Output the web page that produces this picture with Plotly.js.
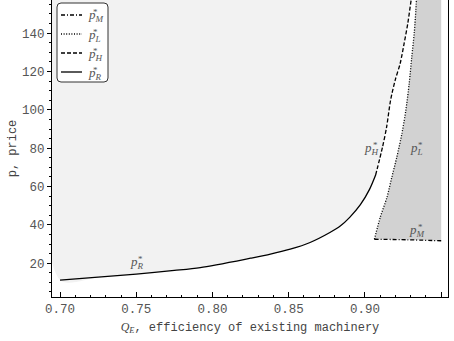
<!DOCTYPE html>
<html>
<head>
<meta charset="utf-8">
<script src="https://cdn.plot.ly/plotly-3.0.1.min.js"></script>
<style>html,body{margin:0;padding:0;background:#fff}#chart{width:454px;height:341px}</style>
</head>
<body>
<div id="chart"></div>
<script>
// ---- data ----
const pR_q = [0.700, 0.725, 0.750, 0.775, 0.792, 0.825, 0.838, 0.851, 0.864, 0.877, 0.884, 0.890, 0.897, 0.903, 0.907];
const pR_v = [11.2, 12.7, 14.3, 16.2, 17.7, 22.6, 24.7, 27.3, 30.8, 36.0, 39.5, 43.9, 50.5, 58.5, 66.0];

const pH_q = [0.907, 0.9115, 0.9142, 0.9168, 0.9198, 0.9231, 0.9257, 0.9281, 0.9303, 0.9325];
const pH_v = [66.0, 80.5, 91.0, 105.0, 115.4, 124.2, 134.7, 145.1, 157.3, 168.0];

const pL_q = [0.9062, 0.9100, 0.9144, 0.9176, 0.9209, 0.9242, 0.9268, 0.9290, 0.9307, 0.9323, 0.9334, 0.9345];
const pL_v = [32.5, 43.9, 54.3, 64.8, 75.3, 87.5, 99.7, 113.7, 127.6, 139.9, 152.1, 168.0];

const pM_q = [0.9062, 0.928, 0.950];
const pM_v = [32.5, 32.2, 31.7];

const legendNames = ['M', 'L', 'H', 'R'];
const xTitle = '<span style="font-family:Liberation Serif,serif;font-style:italic">Q<sub>E</sub></span>, efficiency of existing machinery';
const yTitle = 'p, price';

// ---- layout constants ----
const W = 454, H = 341, ML = 52, MR = 6, MT = 0, MB = 44;
const PW = W - ML - MR, PH = H - MT - MB;
const X0 = 0.69475, X1 = 0.95446, Y0 = 2.36, Y1 = 157.3, TOP = 175;
const F_MONO = 'Liberation Mono, Courier New, monospace';
const F_SERIF = 'Liberation Serif, DejaVu Serif, serif';
const px = x => (x - ML) / PW;
const py = y => 1 - (y - MT) / PH;

// shaded regions built from the curves
const lightX = [pR_q[0]].concat(pR_q, pH_q.slice(1), [pR_q[0]]);
const lightY = [TOP].concat(pR_v, pH_v.slice(1), [TOP]);
const dX = pL_q.concat([pM_q[pM_q.length - 1]]).concat(pM_q.slice().reverse());
const dY = pL_v.slice(0, -1).concat([TOP, TOP]).concat(pM_v.slice().reverse());

const lineBase = {color: '#000', width: 1.3, shape: 'spline', smoothing: 0.8};
const traces = [
  {x: lightX, y: lightY, mode: 'lines', fill: 'toself', fillcolor: '#f2f2f2', line: {width: 0, shape: 'spline', smoothing: 0.8}, hoverinfo: 'skip'},
  {x: dX, y: dY, mode: 'lines', fill: 'toself', fillcolor: '#d2d2d2', line: {width: 0}, hoverinfo: 'skip'},
  {x: pR_q, y: pR_v, mode: 'lines', line: Object.assign({dash: 'solid'}, lineBase)},
  {x: pH_q, y: pH_v, mode: 'lines', line: Object.assign({dash: '4px,2px'}, lineBase)},
  {x: pL_q, y: pL_v, mode: 'lines', line: Object.assign({dash: '1px,1.6px'}, lineBase)},
  {x: pM_q, y: pM_v, mode: 'lines', line: Object.assign({dash: '4px,2px,1px,2px'}, lineBase)}
];

const annotations = [];
function pLabel(x, y, sub, ref, anchor) {
  const xr = ref === 'paper' ? 'paper' : 'x', yr = ref === 'paper' ? 'paper' : 'y';
  annotations.push({x: x, y: y, xref: xr, yref: yr, showarrow: false, xanchor: anchor, yanchor: 'middle',
    text: '<i>p</i><sub><i>' + sub + '</i></sub>', font: {family: F_SERIF, size: 13, color: '#555'}});
  annotations.push({x: x, y: y, xref: xr, yref: yr, showarrow: false, xanchor: 'center', yanchor: 'middle',
    xshift: anchor === 'left' ? 9 : 3.5, yshift: 3.5,
    text: '*', font: {family: F_SERIF, size: 9, color: '#555'}});
}
pLabel(0.7505, 20.5, 'R', 'data', 'center');
pLabel(0.9045, 80, 'H', 'data', 'center');
pLabel(0.934, 80, 'L', 'data', 'center');
pLabel(0.934, 36.8, 'M', 'data', 'center');

// custom legend (rounded box)
const shapes = [];
const bx0 = px(57), bx1 = px(108), by0 = py(3), by1 = py(82);
const rx = 4 / PW, ry = 4 / PH;
shapes.push({type: 'path', xref: 'paper', yref: 'paper', fillcolor: '#fff', line: {color: '#333', width: 1},
  path: `M ${bx0 + rx} ${by0} L ${bx1 - rx} ${by0} Q ${bx1} ${by0} ${bx1} ${by0 - ry} L ${bx1} ${by1 + ry} Q ${bx1} ${by1} ${bx1 - rx} ${by1} L ${bx0 + rx} ${by1} Q ${bx0} ${by1} ${bx0} ${by1 + ry} L ${bx0} ${by0 - ry} Q ${bx0} ${by0} ${bx0 + rx} ${by0} Z`});
const legendDash = ['4px,2px,1px,2px', '1px,1.6px', '4px,2px', 'solid'];
const rowsY = [15, 34, 53, 72];
legendNames.forEach((n, i) => {
  shapes.push({type: 'line', xref: 'paper', yref: 'paper', x0: px(61), x1: px(82), y0: py(rowsY[i]), y1: py(rowsY[i]),
    line: {color: '#000', width: 1.3, dash: legendDash[i]}});
  pLabel(px(86), py(rowsY[i] + 1), n, 'paper', 'left');
});

const tickFont = {family: F_MONO, size: 12.5, color: '#555'};
const layout = {
  width: W, height: H,
  margin: {l: ML, r: MR, t: MT, b: MB, pad: 0},
  paper_bgcolor: '#fff', plot_bgcolor: '#fff',
  showlegend: false,
  xaxis: {range: [X0, X1], tickmode: 'linear', tick0: 0.70, dtick: 0.05, tickformat: '.2f',
    ticks: 'inside', ticklen: 5, tickwidth: 1, tickcolor: '#000',
    minor: {tick0: 0.70, dtick: 0.01, ticks: 'inside', ticklen: 2.5, tickcolor: '#000', showgrid: false},
    showline: true, linecolor: '#000', linewidth: 1, mirror: false, showgrid: false, zeroline: false,
    tickfont: tickFont, title: {text: xTitle, font: {family: F_MONO, size: 12, color: '#444'}, standoff: 6}},
  yaxis: {range: [Y0, Y1], tickmode: 'linear', tick0: 20, dtick: 20,
    ticks: 'outside', ticklen: 4, tickwidth: 1, tickcolor: '#000',
    minor: {tick0: 0, dtick: 5, ticks: 'outside', ticklen: 2, tickcolor: '#000', showgrid: false},
    showline: true, linecolor: '#000', linewidth: 1, mirror: true, showgrid: false, zeroline: false,
    tickfont: tickFont, title: {text: yTitle, font: {family: F_MONO, size: 12, color: '#444'}, standoff: 2}},
  shapes: shapes,
  annotations: annotations
};
Plotly.newPlot('chart', traces, layout, {displayModeBar: false, staticPlot: true});
</script>
</body>
</html>
